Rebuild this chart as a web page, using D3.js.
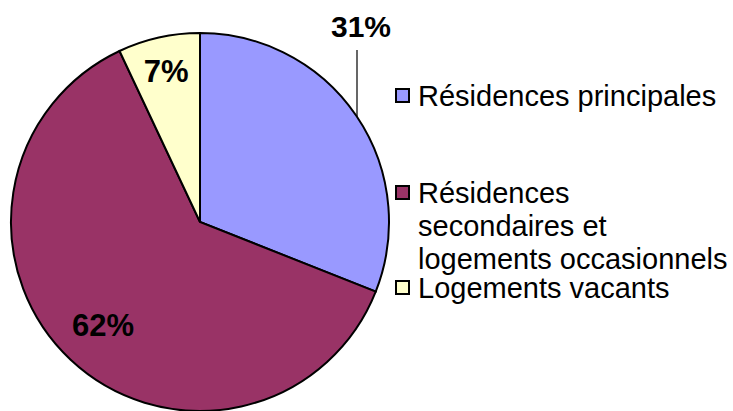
<!DOCTYPE html>
<html>
<head>
<meta charset="utf-8">
<script src="https://cdn.jsdelivr.net/npm/d3@7"></script>
<style>
  body { margin: 0; background: #fff; }
  svg { display: block; font-family: "Liberation Sans", Arial, sans-serif; }
</style>
</head>
<body>
<div id="chart"></div>
<script>
// data
var categories = ["Résidences principales", "Résidences secondaires et logements occasionnels", "Logements vacants"];
var values = [31, 62, 7];
var labels = ["31%", "62%", "7%"];
var legendLines = [["Résidences principales"], ["Résidences", "secondaires et", "logements occasionnels"], ["Logements vacants"]];
var colors = ["#9999FF", "#993366", "#FFFFCC"];

var svgWidth = 733;
var svgHeight = 411;
var cx = 200, cy = 222, radius = 189;

var svg = d3.select("#chart").append("svg")
  .attr("width", svgWidth)
  .attr("height", svgHeight);

var pie = d3.pie().sort(null).value(d => d);
var arcs = pie(values);

var arc = d3.arc().innerRadius(0).outerRadius(radius);

var pieGroup = svg.append("g")
  .attr("transform", `translate(${cx}, ${cy})`);

pieGroup.selectAll("path")
  .data(arcs)
  .enter()
  .append("path")
  .attr("d", arc)
  .attr("fill", (d, i) => colors[i])
  .attr("stroke", "#000")
  .attr("stroke-width", 2)
  .attr("stroke-linejoin", "miter");

// label radius (fraction of radius) for the inside labels
var labelRadius = [0, 0.75, 0.82];

arcs.forEach(function(d, i) {
  if (i === 0) {
    // outside label with vertical leader line
    var lx = 157;
    var ly = -Math.sqrt(radius * radius - lx * lx);
    pieGroup.append("line")
      .attr("x1", lx).attr("x2", lx)
      .attr("y1", -172).attr("y2", ly)
      .attr("stroke", "#000")
      .attr("stroke-width", 1.2);
    pieGroup.append("text")
      .attr("x", lx + 4)
      .attr("y", -185)
      .attr("text-anchor", "middle")
      .style("font-size", "30px")
      .style("font-weight", "bold")
      .text(labels[i]);
  } else {
    var r = radius * labelRadius[i];
    var c = d3.arc().innerRadius(r).outerRadius(r).centroid(d);
    pieGroup.append("text")
      .attr("x", c[0])
      .attr("y", c[1])
      .attr("dy", "0.36em")
      .attr("text-anchor", "middle")
      .style("font-size", "31px")
      .style("font-weight", "bold")
      .text(labels[i]);
  }
});

// legend
var legendX = 396;
var legendY = [96, 193, 288];
var lineHeight = 33;

var legend = svg.append("g");

legendLines.forEach(function(lines, i) {
  legend.append("rect")
    .attr("x", legendX)
    .attr("y", legendY[i] - 7)
    .attr("width", 13)
    .attr("height", 13)
    .attr("fill", colors[i])
    .attr("stroke", "#000")
    .attr("stroke-width", 2);

  var t = legend.append("text")
    .attr("x", legendX + 22)
    .attr("y", legendY[i] + 10)
    .style("font-size", "29px")
    .attr("fill", "#000");

  lines.forEach(function(line, j) {
    t.append("tspan")
      .attr("x", legendX + 22)
      .attr("dy", j === 0 ? 0 : lineHeight)
      .text(line);
  });
});
</script>
</body>
</html>
